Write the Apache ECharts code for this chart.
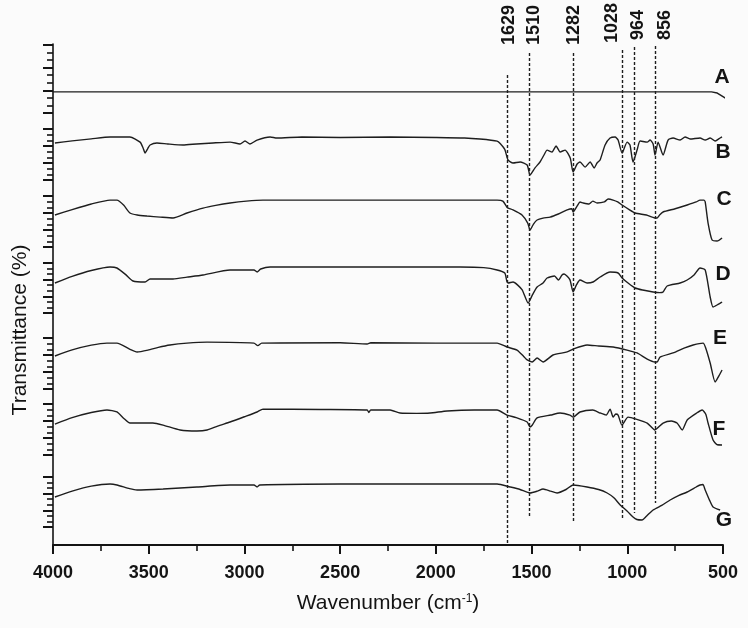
<!DOCTYPE html>
<html><head><meta charset="utf-8">
<script src="https://cdn.jsdelivr.net/npm/echarts@6/dist/echarts.min.js"></script>
<style>html,body{margin:0;padding:0;background:#fbfbfb}#c{width:748px;height:628px}</style>
</head><body><div id="c"></div>
<script>
// ---- data (wavenumber cm-1, relative transmittance within each sample's band) ----
const sampleNames = ['A','B','C','D','E','F','G'];
const specA = [[4000,9.3],[3000,9.3],[2000,9.3],[1000,9.3],[560,9.3],[530,8.8],[500,7.2],[470,5.6],[456,5.8],[455,17.5]];
const specB = [[3990,21.8],[3900,23],[3800,24.2],[3702,25.3],[3598,25.3],[3545,22.3],[3530,19],[3519,15.9],[3505,18.5],[3493,20.6],[3457,21.8],[3400,21.2],[3321,20.6],[3250,21.2],[3164,21.8],[3075,22.3],[3023,21.2],[2997,22.9],[2971,21.2],[2934,23.5],[2866,25.3],[2830,24.7],[2700,25.3],[2500,25.0],[2239,25.3],[2000,25.0],[1850,24.7],[1770,24.1],[1680,22.9],[1664,21.5],[1640,18],[1623,11.8],[1597,10.0],[1560,10.6],[1523,8.8],[1508,2.9],[1482,7.1],[1456,10.6],[1435,14.7],[1419,17.6],[1393,16.5],[1372,20.0],[1351,16.5],[1325,17.6],[1298,12.9],[1283,4.7],[1262,9.4],[1247,10.6],[1220,7.6],[1194,10.6],[1173,7.1],[1158,10.0],[1142,11.8],[1116,20.6],[1090,24.7],[1064,25.3],[1048,23.5],[1027,15.9],[1001,22.3],[986,20.6],[970,10.6],[949,17.6],[933,22.9],[896,22.3],[881,23.5],[865,21.2],[855,14.7],[839,22.3],[813,14.7],[787,23.5],[761,24.7],[724,23.5],[698,25.3],[672,24.1],[620,24.7],[593,23.5],[567,24.7],[541,22.9],[515,24.7],[505,25.3]];
const specC = [[3990,18.8],[3900,22],[3800,25.3],[3702,27.6],[3666,27.6],[3630,24.5],[3598,20.0],[3560,18.8],[3509,18.2],[3440,17.6],[3373,17.1],[3300,20],[3216,22.9],[3150,24.5],[3075,25.9],[2990,27],[2903,27.6],[2500,27.6],[2239,27.6],[1900,27.6],[1680,27.6],[1650,27],[1629,23.5],[1623,22.9],[1597,21.8],[1550,18.8],[1520,14],[1508,10.0],[1490,13.5],[1471,15.9],[1440,17],[1403,17.6],[1360,19.4],[1314,21.8],[1290,22.5],[1283,20.6],[1260,24.5],[1247,26.5],[1230,25.9],[1200,25.3],[1180,27.0],[1158,25.9],[1120,26.5],[1100,28.2],[1074,27.6],[1050,26.5],[1027,24.7],[990,22],[959,20.0],[900,18.8],[856,17.1],[844,17.1],[830,19],[813,20.6],[750,22.5],[687,24.7],[640,26.5],[620,27.6],[600,27.6],[593,26.5],[578,14.1],[557,4.1],[531,3.5],[505,5.3]];
const specD = [[3990,18.0],[3900,22],[3800,25.5],[3702,27.6],[3666,27.0],[3620,23],[3582,19.2],[3519,18.6],[3493,20.4],[3373,20.4],[3300,21.5],[3216,22.8],[3075,25.8],[2950,25.8],[2934,24.6],[2915,26.4],[2866,27.6],[2500,27.6],[1873,27.6],[1750,27.2],[1680,25.8],[1640,24],[1629,19],[1623,18.0],[1597,18.6],[1550,14],[1518,6.0],[1495,11],[1471,15.6],[1440,18.0],[1419,21.0],[1380,22.2],[1360,19.8],[1341,22.8],[1330,23.4],[1300,20],[1283,12.6],[1265,17],[1247,19.8],[1210,18],[1179,18.6],[1142,21.6],[1090,24.6],[1048,24.0],[1027,21.0],[996,18.0],[959,15.0],[920,13.8],[865,12.6],[830,12.2],[813,12.6],[792,16.2],[724,18.0],[687,19.8],[650,23],[620,27.0],[593,25.8],[567,9.6],[552,3.6],[531,4.8],[505,6.6]];
const specE = [[3990,19.4],[3900,23],[3800,25.8],[3718,27.0],[3666,27.0],[3600,23.5],[3561,21.8],[3504,22.9],[3450,24.5],[3389,25.9],[3300,27],[3195,27.6],[2950,27.0],[2930,25.5],[2910,27.0],[2500,27.2],[2359,26.5],[2340,27.2],[2000,27.0],[1680,27.0],[1628,24.7],[1576,22.9],[1540,19],[1523,17.1],[1497,15.9],[1471,18.2],[1440,15.9],[1388,20.0],[1314,21.8],[1283,23.5],[1210,25.9],[1150,25.3],[1074,24.7],[1001,22.9],[949,21.2],[896,17.6],[856,15.9],[844,15.9],[829,18.8],[761,21.2],[700,24.2],[656,25.9],[604,27.0],[590,24],[567,15.3],[541,4.1],[520,8],[505,11.2]];
const specF = [[3990,18.2],[3900,22],[3800,25],[3718,26.5],[3666,25.3],[3630,21.5],[3598,18.8],[3520,18.8],[3478,18.8],[3425,17.6],[3336,14.7],[3248,14.1],[3195,14.7],[3140,17],[3075,19.4],[3000,22.5],[2934,25.3],[2903,27.0],[2600,26.8],[2359,26.5],[2350,25],[2340,26.5],[2239,26.5],[2187,24.7],[2100,24.5],[2030,24.7],[1941,25.9],[1800,26.5],[1680,26.5],[1629,23.5],[1580,22],[1523,19.4],[1508,16.5],[1497,17.5],[1471,21.8],[1400,23.5],[1351,24.7],[1300,23.5],[1283,22.3],[1247,25.3],[1180,26.5],[1142,24.7],[1110,23.5],[1090,27.0],[1074,22.3],[1060,24.1],[1048,23.5],[1028,17.6],[996,22.3],[950,21],[896,18.8],[856,14.7],[813,18.8],[770,20],[740,18.8],[713,14.7],[687,20.6],[640,24.5],[609,26.5],[590,24],[578,18.8],[552,8.8],[530,6],[505,5.9]];
const specG = [[3990,18.0],[3900,21.5],[3800,24.5],[3702,25.8],[3666,25.2],[3600,23],[3561,22.2],[3425,22.8],[3248,24.0],[3075,25.2],[2950,25.2],[2934,24.0],[2920,25.2],[2500,25.8],[2239,25.8],[1680,25.8],[1612,24.0],[1560,22.5],[1508,20.4],[1470,21.5],[1440,22.8],[1400,21.5],[1367,20.4],[1320,22.5],[1283,25.2],[1210,24.0],[1150,22.5],[1105,20.4],[1070,17.5],[1037,13.2],[1000,9.5],[970,6.0],[950,4.5],[923,4.2],[900,6.5],[865,10.2],[820,13],[776,16.2],[730,19],[687,21.0],[640,24],[620,25.2],[605,25.5],[593,22.2],[570,16],[552,12.0],[515,10.2]];
const peakWavenumbers = [1629, 1510, 1282, 1028, 964, 856];
const xAxisTitle = 'Wavenumber (cm{sup|-1})';
const yAxisTitle = 'Transmittance (%)';

// ---- layout / style config ----
const FONT = "'Liberation Sans', Arial, Helvetica, sans-serif";
const INK = '#141414';
const spectra = [specA, specB, specC, specD, specE, specF, specG];
const bands = [[45,68],[129,51],[196,51],[263,50],[338,51],[404,51],[477,50]];
const lineSpans = [[93.8,0],[98.2,5.6],[98.2,4.6],[98.8,5.4],[99.4,6.4],[99.6,8.4]];
const peakLabelShift = [[2,45],[4,45],[1,45],[-10,43],[4,40],[10,40]];
const letterPos = [[722,77],[723,152],[724,199],[723,274],[720,338],[719,429],[724,520]];

const grids = [{left:53, right:25, top:44, bottom:83}];
const xAxes = [{
  gridIndex:0, type:'value', min:500, max:4000, interval:500, inverse:true,
  axisLine:{show:true, lineStyle:{color:INK, width:2}},
  axisTick:{show:true, length:9, lineStyle:{color:INK, width:2}},
  minorTick:{show:true, splitNumber:2, length:6, lineStyle:{color:INK, width:1.6}},
  splitLine:{show:false},
  axisLabel:{color:INK, fontFamily:FONT, fontSize:18, fontWeight:'bold', margin:19, formatter:v => String(v)},
  name:xAxisTitle, nameLocation:'middle', nameGap:48,
  nameTextStyle:{color:INK, fontFamily:FONT, fontSize:21,
    rich:{sup:{fontSize:12, fontFamily:FONT, color:INK, verticalAlign:'top', lineHeight:14}}}
}];
const yAxes = [{
  gridIndex:0, type:'value', min:0, max:100,
  axisLine:{show:true, lineStyle:{color:INK, width:1.6}},
  axisTick:{show:false}, axisLabel:{show:false}, splitLine:{show:false}
}];
bands.forEach(([top,h], i) => {
  grids.push({left:53, right:25, top:top, height:h});
  xAxes.push({gridIndex:i+1, type:'value', min:500, max:4000, inverse:true, show:false});
  yAxes.push({
    gridIndex:i+1, type:'value', min:0, max:30, interval:10,
    axisLine:{show:false},
    axisTick:{show:true, length:10, lineStyle:{color:INK, width:2}},
    minorTick:{show:true, splitNumber:3, length:6, lineStyle:{color:INK, width:1.6}},
    axisLabel:{show:false}, splitLine:{show:false}, minorSplitLine:{show:false}
  });
});

const series = spectra.map((d, i) => ({
  type:'line', name:sampleNames[i], xAxisIndex:i+1, yAxisIndex:i+1, data:d,
  showSymbol:false, symbol:'none', smooth:i === 0 ? false : 0.2, clip:false, silent:true,
  lineStyle:{color:'#1e1e1e', width:1.4}
}));
series.push({
  type:'line', xAxisIndex:0, yAxisIndex:0, data:[], silent:true,
  markLine:{
    symbol:['none','none'], silent:true, animation:false, label:{show:false},
    lineStyle:{type:[3,2], color:'#1e1e1e', width:1.4},
    data: peakWavenumbers.map((w, i) => [{coord:[w, lineSpans[i][0]]}, {coord:[w, lineSpans[i][1]]}])
  }
});

const chart = echarts.init(document.getElementById('c'), null, {renderer:'canvas'});
const option = {
  backgroundColor:'#fbfbfb', animation:false,
  grid:grids, xAxis:xAxes, yAxis:yAxes, series:series
};
chart.setOption(option);

const graphics = [];
graphics.push({type:'text', x:20, y:330, rotation:Math.PI/2,
  style:{text:yAxisTitle, fontFamily:FONT, fontSize:21, fill:INK, align:'center', verticalAlign:'middle'}});
sampleNames.forEach((n, i) => graphics.push({type:'text', x:letterPos[i][0], y:letterPos[i][1],
  style:{text:n, fontFamily:FONT, fontSize:21, fontWeight:'bold', fill:INK, align:'center', verticalAlign:'middle'}}));
peakWavenumbers.forEach((w, i) => {
  const px = chart.convertToPixel({xAxisIndex:0}, w);
  graphics.push({type:'text', x:px + peakLabelShift[i][0], y:peakLabelShift[i][1], rotation:Math.PI/2,
    style:{text:String(w), fontFamily:FONT, fontSize:18, fontWeight:'bold', fill:INK, align:'left', verticalAlign:'middle'}});
});
chart.setOption({graphic:graphics});
</script></body></html>
